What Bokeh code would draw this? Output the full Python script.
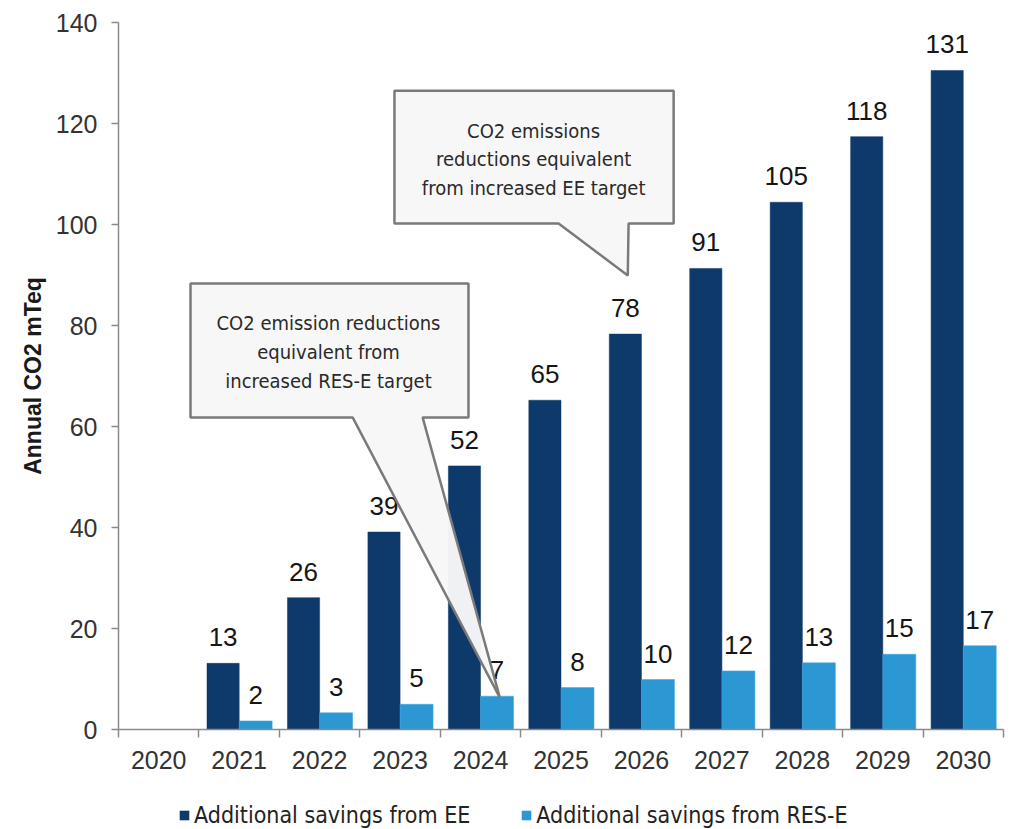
import numpy as np
from bokeh.plotting import figure
from bokeh.layouts import column
from bokeh.models import (Range1d, LinearAxis, FixedTicker, Legend, LegendItem, ColumnDataSource)
from bokeh.transform import dodge
from bokeh.core.properties import value
from bokeh.embed import file_html
from bokeh.resources import INLINE

# ---------------- data ----------------
years = ["2020", "2021", "2022", "2023", "2024", "2025", "2026", "2027", "2028", "2029", "2030"]
ee_savings = [0, 13.1, 26.1, 39.1, 52.2, 65.2, 78.3, 91.3, 104.4, 117.4, 130.5]
res_savings = [0, 1.7, 3.3, 5.0, 6.6, 8.3, 9.9, 11.6, 13.2, 14.9, 16.6]
ee_labels = ["", "13", "26", "39", "52", "65", "78", "91", "105", "118", "131"]
res_labels = ["", "2", "3", "5", "7", "8", "10", "12", "13", "15", "17"]
y_ticks = [0, 20, 40, 60, 80, 100, 120, 140]
series_names = ["Additional savings from EE", "Additional savings from RES-E"]
y_title = "Annual CO2 mTeq"
callout_ee_text = "CO2 emissions\nreductions equivalent\nfrom increased EE target"
callout_res_text = "CO2 emission reductions\nequivalent from\nincreased RES-E target"

# ---------------- style ----------------
EE_C = "#0d3a6a"
RES_C = "#2b98d4"
AXIS_C = "#8a8a8a"
TICK_FONT = "Liberation Sans"
COND = "DejaVu Sans Condensed"

n = len(years)
centers = (np.arange(n) + 0.5).tolist()   # category centres on a 0..n axis
src = ColumnDataSource(dict(pos=centers, ee=ee_savings, res=res_savings,
                            ee_lbl=ee_labels, res_lbl=res_labels))

p = figure(x_range=Range1d(0, n), y_range=Range1d(0, 140),
           width=1016, height=780, output_backend="svg", toolbar_location=None,
           x_axis_location=None, min_border_left=118, min_border_right=13,
           min_border_top=22, min_border_bottom=51)
p.xgrid.visible = False
p.ygrid.visible = False
p.outline_line_color = None
p.background_fill_color = "white"
p.border_fill_color = "white"

# y axis
ya = p.yaxis[0]
ya.ticker = FixedTicker(ticks=y_ticks, minor_ticks=[])
ya.major_tick_out = 7
ya.major_tick_in = 0
ya.axis_line_color = AXIS_C
ya.axis_line_width = 1.5
ya.major_tick_line_color = AXIS_C
ya.major_tick_line_width = 1.5
ya.major_label_text_font = TICK_FONT
ya.major_label_text_font_size = "25px"
ya.major_label_text_color = "#333333"
ya.major_label_standoff = 14
ya.axis_label = y_title
ya.axis_label_text_font = "Liberation Sans"
ya.axis_label_text_font_style = "bold"
ya.axis_label_text_font_size = "23px"
ya.axis_label_text_color = "#1a1a1a"
ya.axis_label_standoff = 7

# x axis: boundary ticks + category labels
tick_axis = LinearAxis(ticker=FixedTicker(ticks=list(range(n + 1)), minor_ticks=[]),
                       major_tick_out=8, major_tick_in=0,
                       major_label_text_font_size="0px", major_label_standoff=0,
                       major_label_overrides={i: "" for i in range(n + 1)},
                       axis_line_color=AXIS_C, axis_line_width=1.5,
                       major_tick_line_color=AXIS_C, major_tick_line_width=1.5)
label_axis = LinearAxis(ticker=FixedTicker(ticks=centers, minor_ticks=[]),
                        major_label_overrides={c: y for c, y in zip(centers, years)},
                        axis_line_color=None, major_tick_line_color=None,
                        major_tick_out=0, major_tick_in=0, major_label_standoff=13,
                        major_label_text_font=TICK_FONT,
                        major_label_text_font_size="25px",
                        major_label_text_color="#333333")
p.add_layout(tick_axis, "below")
p.add_layout(label_axis, "below")

# bars
r_ee = p.vbar(x=dodge("pos", -0.2), top="ee", width=0.4,
              source=src, fill_color=EE_C, line_color=EE_C, line_width=0.5)
r_res = p.vbar(x=dodge("pos", 0.205), top="res", width=0.41,
               source=src, fill_color=RES_C, line_color="#3aa6de", line_width=0.5)

# value labels
p.text(x=dodge("pos", -0.2), y="ee", text="ee_lbl", source=src,
       text_align="center", text_baseline="middle", y_offset=-26,
       text_font=value("Liberation Sans"), text_font_size="26px", text_color="#151515")
p.text(x=dodge("pos", 0.205), y="res", text="res_lbl", source=src,
       text_align="center", text_baseline="middle", y_offset=-26,
       text_font=value("Liberation Sans"), text_font_size="26px", text_color="#151515")

# callouts (annotation shapes)
def callout(x0, x1, ytop, ybot, bl, br, tipx, tipy, tx, ty, txt):
    xs = [x0, x1, x1, br, tipx, bl, x0]
    ys = [ytop, ytop, ybot, ybot, tipy, ybot, ybot]
    p.patch(xs, ys, fill_color="#f7f7f7", fill_alpha=0.97, line_color="#7a7a7a", line_width=2.5)
    p.text(x=[tx], y=[ty], text=[txt], text_align="center", text_baseline="middle",
           text_font=value(COND), text_font_size="20px",
           text_color="#2a2a2a", text_line_height=1.2)

callout(0.895, 4.35, 88.3, 61.8, 2.91, 3.78, 4.74, 6.3, 2.61, 74.7, callout_res_text)
callout(3.43, 6.90, 126.5, 100.2, 5.47, 6.34, 6.33, 89.9, 5.16, 112.9, callout_ee_text)

# legend strip below the chart (swatch renderers are zero-height, so nothing shows)
lg = figure(x_range=Range1d(0, 1), y_range=Range1d(0, 1), width=1016, height=49,
            output_backend="svg", toolbar_location=None, min_border=0,
            x_axis_location=None, y_axis_location=None)
lg.outline_line_color = None
lg.xgrid.visible = False
lg.ygrid.visible = False
swatch = ColumnDataSource(dict(x=[0.5], top=[-5.0], bottom=[-5.0]))
k_ee = lg.vbar(x="x", top="top", bottom="bottom", width=0.01, source=swatch,
               fill_color=EE_C, line_color=None)
k_res = lg.vbar(x="x", top="top", bottom="bottom", width=0.01, source=swatch,
                fill_color=RES_C, line_color=None)
legend = Legend(items=[LegendItem(label=series_names[0], renderers=[k_ee]),
                       LegendItem(label=series_names[1], renderers=[k_res])],
                orientation="horizontal", location=(60, 1),
                border_line_color=None, background_fill_alpha=0,
                glyph_width=12, glyph_height=12, label_standoff=4, spacing=50,
                label_text_font=COND, label_text_font_size="23px",
                label_text_color="#222222", padding=0, margin=0)
lg.add_layout(legend, "center")

layout = column(p, lg, spacing=0)
open("out.html", "w").write(file_html(layout, INLINE))
